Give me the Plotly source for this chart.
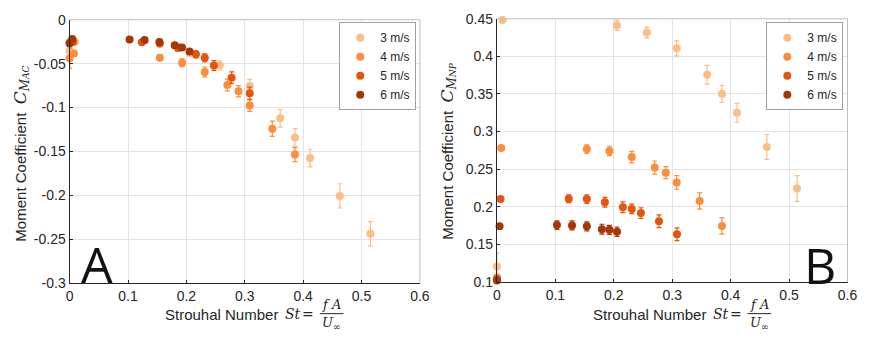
import plotly.graph_objects as go

speeds = ["3 m/s", "4 m/s", "5 m/s", "6 m/s"]
colors = ["#FDBE85", "#FD8D3C", "#E6550D", "#A63603"]

# Panel A: moment coefficient about aerodynamic centre
a_st = [
    [0.0, 0.0095, 0.2054, 0.2573, 0.3084, 0.3607, 0.386, 0.4118, 0.4629, 0.5152],
    [0.0, 0.0073, 0.1545, 0.1927, 0.2315, 0.2702, 0.2893, 0.3084, 0.3472, 0.386],
    [0.0, 0.0062, 0.1236, 0.1545, 0.1854, 0.2163, 0.2315, 0.2472, 0.2775, 0.3084],
    [0.0, 0.0045, 0.1027, 0.1285, 0.1538, 0.18, 0.1925, 0.2054],
]
a_cm = [
    [-0.0355, -0.0253, -0.038, -0.0521, -0.0753, -0.1122, -0.1339, -0.1574, -0.2005, -0.2436],
    [-0.0438, -0.0384, -0.0434, -0.0489, -0.0594, -0.0742, -0.0814, -0.0977, -0.1241, -0.1535],
    [-0.026, -0.025, -0.0257, -0.027, -0.0318, -0.0394, -0.0434, -0.0521, -0.0659, -0.0836],
    [-0.027, -0.022, -0.0224, -0.0232, -0.0253, -0.029, -0.0315, -0.0362],
]
a_err = [
    [0.0035, 0.001, 0.003, 0.0054, 0.0075, 0.01, 0.01, 0.01, 0.0138, 0.0139],
    [0.0113, 0.001, 0.0033, 0.0045, 0.0056, 0.0067, 0.0063, 0.0065, 0.0087, 0.008],
    [0.002, 0.001, 0.003, 0.0035, 0.004, 0.004, 0.0045, 0.0056, 0.0065, 0.007],
    [0.002, 0.001, 0.0025, 0.0028, 0.003, 0.003, 0.003, 0.003],
]

# Panel B: moment coefficient about neutral point
b_st = [
    [0.0, 0.0095, 0.2054, 0.2565, 0.3076, 0.3598, 0.385, 0.4108, 0.4619, 0.5135],
    [0.0, 0.0073, 0.1538, 0.1925, 0.2307, 0.27, 0.289, 0.3076, 0.3469, 0.385],
    [0.0, 0.0062, 0.1229, 0.1538, 0.1847, 0.2155, 0.2307, 0.2464, 0.2773, 0.3081],
    [0.0, 0.0045, 0.1027, 0.1285, 0.1538, 0.1796, 0.1925, 0.2054],
]
b_cm = [
    [0.1207, 0.4483, 0.4415, 0.4318, 0.4107, 0.3756, 0.3502, 0.3249, 0.2796, 0.2243],
    [0.106, 0.278, 0.2767, 0.2742, 0.2661, 0.2522, 0.2454, 0.2323, 0.2078, 0.1744],
    [0.104, 0.2103, 0.2107, 0.2103, 0.2061, 0.1993, 0.1972, 0.1917, 0.1807, 0.1634],
    [0.102, 0.174, 0.1757, 0.1752, 0.174, 0.1702, 0.1693, 0.1668],
]
b_err = [
    [0.018, 0.001, 0.0068, 0.0072, 0.01, 0.0125, 0.0114, 0.0125, 0.0165, 0.017],
    [0.002, 0.001, 0.0057, 0.0063, 0.0076, 0.0087, 0.008, 0.009, 0.0108, 0.0108],
    [0.002, 0.001, 0.0053, 0.0057, 0.0065, 0.0072, 0.0063, 0.007, 0.0085, 0.0085],
    [0.002, 0.001, 0.0057, 0.006, 0.006, 0.0066, 0.006, 0.0063],
]

x_ticks = [0, 0.1, 0.2, 0.3, 0.4, 0.5, 0.6]
x_tick_text = ["0", "0.1", "0.2", "0.3", "0.4", "0.5", "0.6"]
a_ticks = [0, -0.05, -0.1, -0.15, -0.2, -0.25, -0.3]
a_tick_text = ["0", "-0.05", "-0.1", "-0.15", "-0.2", "-0.25", "-0.3"]
b_ticks = [0.1, 0.15, 0.2, 0.25, 0.3, 0.35, 0.4, 0.45]
b_tick_text = ["0.1", "0.15", "0.2", "0.25", "0.3", "0.35", "0.4", "0.45"]

W, H = 872, 345
FONT = "Liberation Sans, Arial, sans-serif"
SERIF = "DejaVu Serif, Liberation Serif, serif"
TXT = "#262626"

fig = go.Figure()

for panel, (xs, ys, es, xa, ya, lg) in enumerate([
    (a_st, a_cm, a_err, "x", "y", "legend"),
    (b_st, b_cm, b_err, "x2", "y2", "legend2"),
]):
    for i in range(4):
        fig.add_trace(go.Scatter(
            x=xs[i], y=ys[i], mode="markers", name=speeds[i],
            xaxis=xa, yaxis=ya, legend=lg,
            marker=dict(color=colors[i], size=8, line=dict(width=0)),
            error_y=dict(type="data", array=es[i], visible=True,
                         color=colors[i], thickness=1.2, width=2.5),
            cliponaxis=False,
        ))

axA_x = [66.7 / W, 422.7 / W]
axA_y = [1 - 288.7 / H, 1 - 12.3 / H]
axB_x = [501 / W, 857.3 / W]
axB_y = [1 - 287.3 / H, 1 - 11.3 / H]

common_x = dict(range=[0, 0.6], tickvals=x_ticks, ticktext=x_tick_text,
                showgrid=True, gridcolor="#e3e3e3", gridwidth=1,
                zeroline=False, showline=True, linecolor=TXT, linewidth=1.2,
                ticks="inside", ticklen=3, tickcolor=TXT,
                tickfont=dict(family=FONT, size=14, color=TXT))
common_y = dict(showgrid=True, gridcolor="#e3e3e3", gridwidth=1,
                zeroline=False, showline=True, linecolor=TXT, linewidth=1.2,
                ticks="inside", ticklen=3, tickcolor=TXT,
                tickfont=dict(family=FONT, size=14, color=TXT))

leg_common = dict(xanchor="right", yanchor="top", bgcolor="white",
                  bordercolor="#a0a0a0", borderwidth=1,
                  font=dict(family=FONT, size=12, color=TXT),
                  itemwidth=30, tracegroupgap=0)

fig.update_layout(
    width=W, height=H, margin=dict(l=0, r=0, t=0, b=0),
    paper_bgcolor="white", plot_bgcolor="white",
    xaxis=dict(domain=axA_x, anchor="y", **common_x),
    yaxis=dict(domain=axA_y, anchor="x", range=[-0.3, 0], tickvals=a_ticks,
               ticktext=a_tick_text, **common_y),
    xaxis2=dict(domain=axB_x, anchor="y2", **common_x),
    yaxis2=dict(domain=axB_y, anchor="x2", range=[0.1, 0.45], tickvals=b_ticks,
                ticktext=b_tick_text, **common_y),
    legend=dict(x=419 / W, y=1 - 15 / H, **leg_common),
    legend2=dict(x=853 / W, y=1 - 15 / H, **leg_common),
    font=dict(family=FONT, color=TXT),
)

# top/right box edges in light gray
for xr, yr in [("x domain", "y domain"), ("x2 domain", "y2 domain")]:
    fig.add_shape(type="line", xref=xr, yref=yr, x0=0, x1=1, y0=1, y1=1,
                  line=dict(color="#bdbdbd", width=1))
    fig.add_shape(type="line", xref=xr, yref=yr, x0=1, x1=1, y0=0, y1=1,
                  line=dict(color="#bdbdbd", width=1))

def px(xp, yp):
    return xp / W, 1 - yp / H

annos = []
# x-axis titles with fraction
for off in [0, 434.5]:
    x0, y0 = px(281 + off, 321)
    annos.append(dict(x=x0, y=y0, xref="paper", yref="paper", xanchor="right",
                      yanchor="middle", showarrow=False, text="Strouhal Number",
                      font=dict(family=FONT, size=15, color=TXT)))
    x1, _ = px(284 + off, 321)
    annos.append(dict(x=x1, y=y0, xref="paper", yref="paper", xanchor="left",
                      yanchor="middle", showarrow=False, text="<i>St</i>",
                      font=dict(family=SERIF, size=14, color=TXT)))
    x2, _ = px(309 + off, 320.5)
    annos.append(dict(x=x2, y=y0, xref="paper", yref="paper", xanchor="center",
                      yanchor="middle", showarrow=False, text="=",
                      font=dict(family=SERIF, size=14, color=TXT)))
    xn, yn = px(333 + off, 311)
    annos.append(dict(x=xn, y=yn, xref="paper", yref="paper", xanchor="center",
                      yanchor="middle", showarrow=False, text="<i>f A</i>",
                      font=dict(family=SERIF, size=13, color=TXT)))
    xd, yd = px(333 + off, 331)
    annos.append(dict(x=xd, y=yd, xref="paper", yref="paper", xanchor="center",
                      yanchor="middle", showarrow=False, text="<i>U</i><sub>∞</sub>",
                      font=dict(family=SERIF, size=13, color=TXT)))
    fx0, fy = px(321 + off, 320.5)
    fx1, _ = px(345 + off, 320.5)
    fig.add_shape(type="line", xref="paper", yref="paper", x0=fx0, x1=fx1,
                  y0=fy, y1=fy, line=dict(color=TXT, width=1))

# y-axis titles
for xp, yp, sub in [(17, 153, "AC"), (451, 150, "NP")]:
    xx, yy = px(xp, yp)
    annos.append(dict(x=xx, y=yy, xref="paper", yref="paper", xanchor="center",
                      yanchor="middle", showarrow=False, textangle=-90,
                      text=("Moment Coefficient  "
                            f"<span style='font-family:DejaVu Serif;font-size:17px'><i>C</i></span>"
                            f"<sub><span style='font-family:DejaVu Serif;font-size:12px'><i>M</i></span>"
                            f"<span style='font-family:DejaVu Serif;font-size:9px'><i>{sub}</i></span></sub>"),
                      font=dict(family=FONT, size=15, color=TXT)))

# panel letters
for xp, yp, letter in [(95, 268, "A"), (829, 269, "B")]:
    xx, yy = px(xp, yp)
    annos.append(dict(x=xx, y=yy, xref="paper", yref="paper", xanchor="center",
                      yanchor="middle", showarrow=False, text=letter,
                      font=dict(family="Open Sans, sans-serif", size=50, color="#111111")))

fig.update_layout(annotations=annos)
fig.write_html("out.html")
